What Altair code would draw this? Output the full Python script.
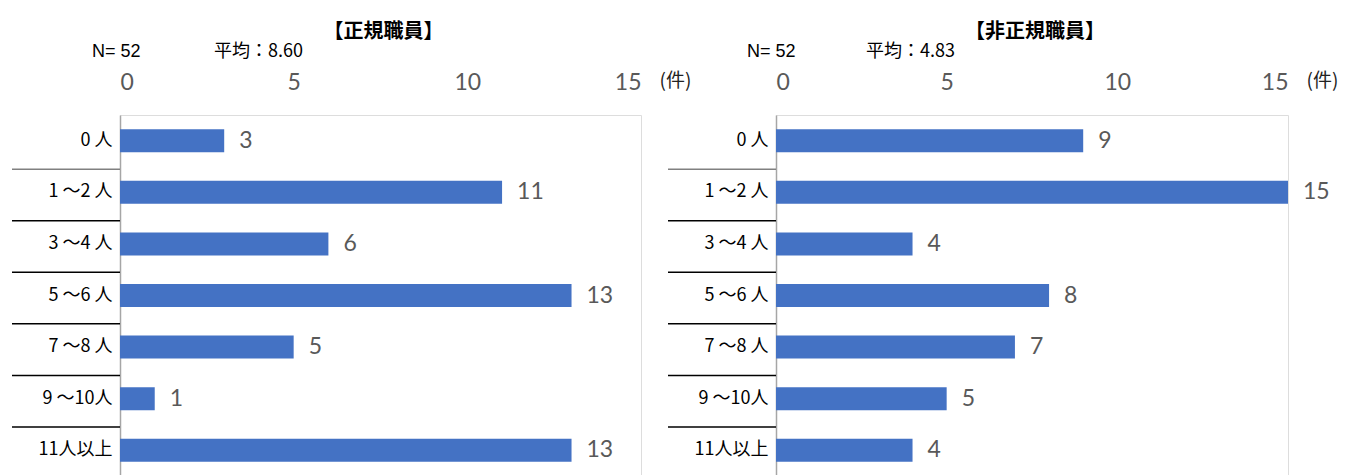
import altair as alt
import pandas as pd

categories = ["0 人", "1 ～2 人", "3 ～4 人", "5 ～6 人", "7 ～8 人", "9 ～10人", "11人以上"]
regular_counts = [3, 11, 6, 13, 5, 1, 13]
nonregular_counts = [9, 15, 4, 8, 7, 5, 4]
x_ticks = [0, 5, 10, 15]
panel_titles = ["【正規職員】", "【非正規職員】"]
n_labels = ["N= 52", "N= 52"]
mean_labels = ["平均：8.60", "平均：4.83"]
unit_label = "(件)"

BLUE = "#4472C4"
GRAY_TXT = "#595959"
CJK = "Noto Sans CJK JP"
NUM = "Lato"
HEIGHT = 361


def panel(values, title, n_text, mean_text, width, n_x, mean_x):
    df = pd.DataFrame({"cat": categories, "count": values})
    yscale = alt.Scale(domain=categories)
    y = alt.Y(
        "cat:N", sort=categories, scale=yscale,
        axis=alt.Axis(title=None, labelFont=CJK, labelFontSize=18, labelColor="#000000",
                      labelPadding=8, ticks=False, domainColor="#a6a6a6", domainWidth=1.5,
                      minExtent=108, maxExtent=108),
    )
    x = alt.X(
        "count:Q", scale=alt.Scale(domain=[0, 15], nice=False, zero=True),
        axis=alt.Axis(orient="top", values=x_ticks, grid=False, domain=False, ticks=False,
                      labelFont=NUM, labelFontSize=23, labelColor=GRAY_TXT, labelPadding=21,
                      title=unit_label, titleFont=CJK, titleFontSize=19, titleFontWeight="normal",
                      titleColor="#222222", titleX=width + 18, titleY=-35, titleAlign="left",
                      titleAngle=0, titleBaseline="middle"),
    )
    bars = alt.Chart(df).mark_bar(color=BLUE, size=23).encode(x=x, y=y)
    labels = alt.Chart(df).mark_text(
        align="left", baseline="middle", dx=15, font=NUM, fontSize=23, color=GRAY_TXT
    ).encode(x="count:Q", y=alt.Y("cat:N", sort=categories, scale=yscale), text="count:Q")
    sep = alt.Chart(pd.DataFrame({"cat": categories[1:]})).mark_rule(strokeWidth=1.5).encode(
        y=alt.Y("cat:N", sort=categories, scale=yscale, bandPosition=0),
        x=alt.value(-108), x2=alt.value(0),
        color=alt.condition(alt.datum.cat == categories[1], alt.value("#808080"), alt.value("#000000")),
    )
    ttl = alt.Chart(pd.DataFrame({"t": [title]})).mark_text(
        align="center", baseline="top", font=CJK, fontSize=20, fontWeight="bold", color="#000000"
    ).encode(text="t:N", x=alt.value(width / 2 + 3), y=alt.value(-93))
    ntx = alt.Chart(pd.DataFrame({"t": [n_text]})).mark_text(
        align="left", baseline="middle", font="Liberation Sans", fontSize=18, color="#000000"
    ).encode(text="t:N", x=alt.value(n_x), y=alt.value(-63))
    mtx = alt.Chart(pd.DataFrame({"t": [mean_text]})).mark_text(
        align="left", baseline="middle", font=CJK, fontSize=18, color="#000000"
    ).encode(text="t:N", x=alt.value(mean_x), y=alt.value(-63))
    return alt.layer(bars, labels, sep, ttl, ntx, mtx).properties(width=width, height=HEIGHT)


left = panel(regular_counts, panel_titles[0], n_labels[0], mean_labels[0], 521, -28, 94)
right = panel(nonregular_counts, panel_titles[1], n_labels[1], mean_labels[1], 512, -29, 90)

chart = alt.hconcat(left, right, spacing=135, bounds="flush").properties(
    padding={"left": 2, "top": 13, "right": 0, "bottom": 0}
).configure_view(stroke="#bfbfbf", strokeWidth=1.5).configure(background="white")

chart.save("out.html", embed_options={"renderer": "svg", "actions": False})
